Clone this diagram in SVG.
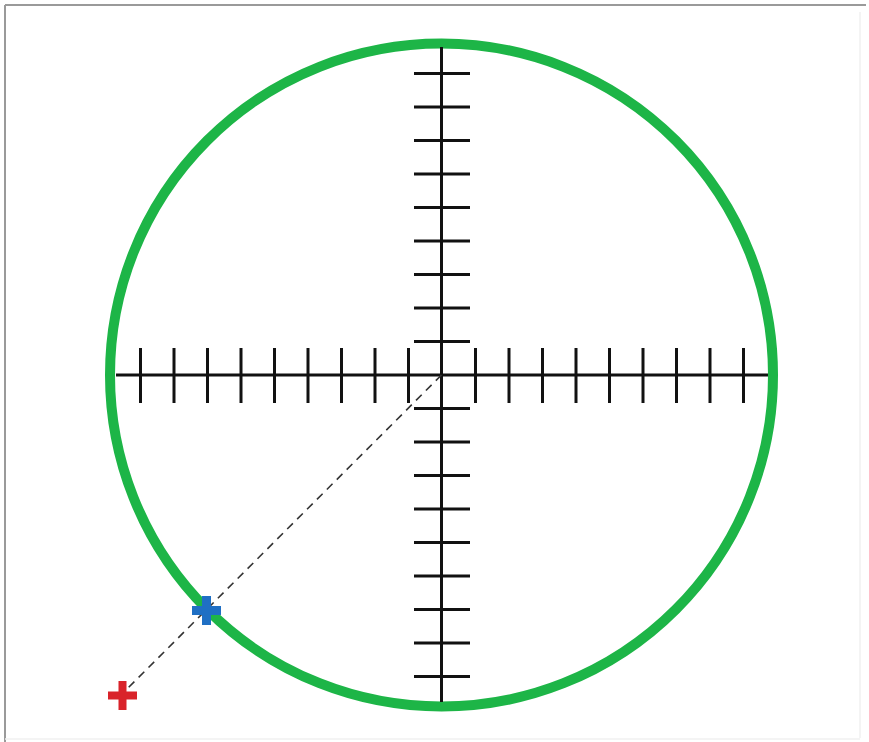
<svg xmlns="http://www.w3.org/2000/svg" width="869" height="742" viewBox="0 0 869 742">
<defs>
<style>
.axis{stroke:#111;stroke-width:3;fill:none}
.tick{stroke:#111;stroke-width:3}
.dash{stroke:#333;stroke-width:1.6;stroke-dasharray:8 6;fill:none}
</style>
</defs>
<rect width="869" height="742" fill="#fff"/>
<g id="frame">
<line x1="5" y1="5" x2="866" y2="5" stroke="#9a9a9a" stroke-width="2"/>
<line x1="5" y1="5" x2="5" y2="742" stroke="#9a9a9a" stroke-width="2"/>
<line x1="860" y1="12" x2="860" y2="738" stroke="#f0f0f0" stroke-width="1.5"/>
<line x1="5" y1="739" x2="860" y2="739" stroke="#f0f0f0" stroke-width="1.5"/>
</g>
<g id="circle">
<circle cx="441.5" cy="375" r="331.5" fill="none" stroke="#1db547" stroke-width="10"/>
</g>
<g id="axes">
<line class="axis" x1="441.5" y1="47" x2="441.5" y2="702"/>
<line class="axis" x1="116" y1="375" x2="768" y2="375"/>
<g id="vticks">
<line class="tick" x1="414" y1="73.5" x2="470" y2="73.5"/>
<line class="tick" x1="414" y1="107" x2="470" y2="107"/>
<line class="tick" x1="414" y1="140.5" x2="470" y2="140.5"/>
<line class="tick" x1="414" y1="174" x2="470" y2="174"/>
<line class="tick" x1="414" y1="207.5" x2="470" y2="207.5"/>
<line class="tick" x1="414" y1="241" x2="470" y2="241"/>
<line class="tick" x1="414" y1="274.5" x2="470" y2="274.5"/>
<line class="tick" x1="414" y1="308" x2="470" y2="308"/>
<line class="tick" x1="414" y1="341.5" x2="470" y2="341.5"/>
<line class="tick" x1="414" y1="408.5" x2="470" y2="408.5"/>
<line class="tick" x1="414" y1="442" x2="470" y2="442"/>
<line class="tick" x1="414" y1="475.5" x2="470" y2="475.5"/>
<line class="tick" x1="414" y1="509" x2="470" y2="509"/>
<line class="tick" x1="414" y1="542.5" x2="470" y2="542.5"/>
<line class="tick" x1="414" y1="576" x2="470" y2="576"/>
<line class="tick" x1="414" y1="609.5" x2="470" y2="609.5"/>
<line class="tick" x1="414" y1="643" x2="470" y2="643"/>
<line class="tick" x1="414" y1="676.5" x2="470" y2="676.5"/>
</g>
<g id="hticks">
<line class="tick" x1="140.5" y1="348" x2="140.5" y2="403"/>
<line class="tick" x1="174" y1="348" x2="174" y2="403"/>
<line class="tick" x1="207.5" y1="348" x2="207.5" y2="403"/>
<line class="tick" x1="241" y1="348" x2="241" y2="403"/>
<line class="tick" x1="274.5" y1="348" x2="274.5" y2="403"/>
<line class="tick" x1="308" y1="348" x2="308" y2="403"/>
<line class="tick" x1="341.5" y1="348" x2="341.5" y2="403"/>
<line class="tick" x1="375" y1="348" x2="375" y2="403"/>
<line class="tick" x1="408.5" y1="348" x2="408.5" y2="403"/>
<line class="tick" x1="475.5" y1="348" x2="475.5" y2="403"/>
<line class="tick" x1="509" y1="348" x2="509" y2="403"/>
<line class="tick" x1="542.5" y1="348" x2="542.5" y2="403"/>
<line class="tick" x1="576" y1="348" x2="576" y2="403"/>
<line class="tick" x1="609.5" y1="348" x2="609.5" y2="403"/>
<line class="tick" x1="643" y1="348" x2="643" y2="403"/>
<line class="tick" x1="676.5" y1="348" x2="676.5" y2="403"/>
<line class="tick" x1="710" y1="348" x2="710" y2="403"/>
<line class="tick" x1="743.5" y1="348" x2="743.5" y2="403"/>
</g>
</g>
<g id="connectors">
<line class="dash" x1="441.5" y1="375" x2="124" y2="692"/>
</g>
<g id="blue-cross">
<path d="M206.5 596 V625 M192 610.5 H221" stroke="#1f6fc4" stroke-width="9" fill="none"/>
</g>
<g id="red-cross">
<path d="M122.5 681 V710 M108 695.5 H137" stroke="#d9232a" stroke-width="8" fill="none"/>
</g>
</svg>
